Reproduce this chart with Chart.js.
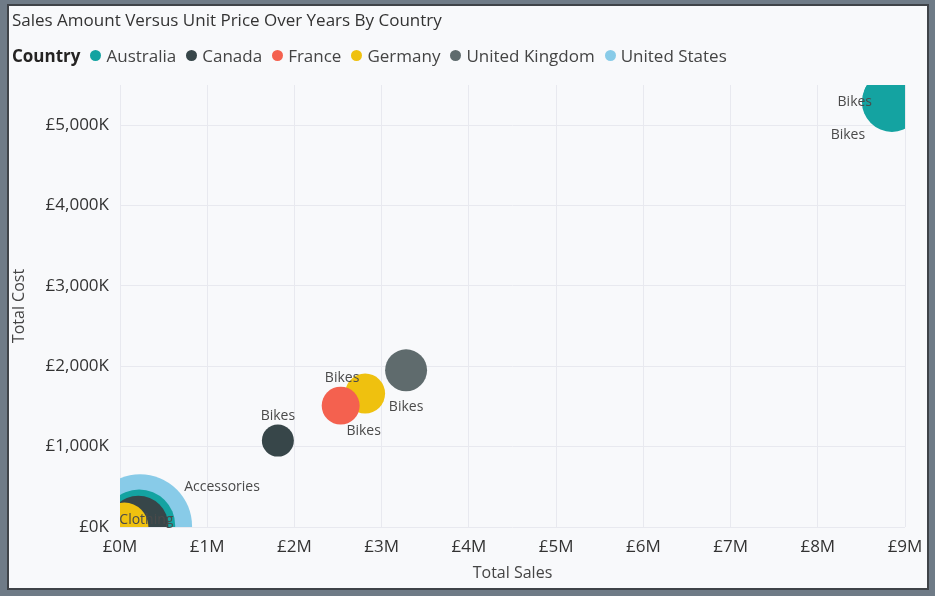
<!DOCTYPE html>
<html>
<head>
<meta charset="utf-8">
<script src="https://cdn.jsdelivr.net/npm/chart.js@4/dist/chart.umd.min.js"></script>
<style>
  html, body { margin: 0; padding: 0; }
  body { width: 935px; height: 596px; background: #6f7b87; position: relative; overflow: hidden; font-family: "Open Sans", "Noto Sans", sans-serif; }
  #card { position: absolute; left: 7px; top: 4px; width: 918px; height: 582px; background: #f8f9fb; border: 2px solid #3f4348; }
  #wrap { position: absolute; left: 0; top: 0; width: 935px; height: 596px; }
  #title { position: absolute; left: 12px; top: 8px; font-size: 17px; color: #333; white-space: nowrap; }
  #legend { position: absolute; left: 12px; top: 44px; font-size: 17px; color: #444; white-space: nowrap; display: flex; align-items: center; }
  #legend b { color: #252423; margin-right: 10px; }
  .item { display: flex; align-items: center; margin-right: 10px; }
  .dot { width: 11px; height: 11px; border-radius: 50%; margin-right: 5px; }
</style>
</head>
<body>
<div id="card"></div>
<div id="wrap"><canvas id="chart"></canvas></div>
<div id="title">Sales Amount Versus Unit Price Over Years By Country</div>
<div id="legend"><b>Country</b></div>
<script>
// ----- DATOS -----
const countries = ['Australia', 'Canada', 'France', 'Germany', 'United Kingdom', 'United States'];
const countryColors = ['#14A3A1', '#374649', '#F4614F', '#EFC10F', '#5F6B6D', '#88CBE8'];

// ventas en £M, coste en £K, tamaño = valor de la burbuja
const australiaProducts = ['Bikes', 'Bikes', 'Accessories'];
const australiaSales = [8.86, 8.85, 0.22];
const australiaCost = [5310, 5290, 20];
const australiaSize = [225, 225, 324];

const canadaProducts = ['Bikes', 'Accessories'];
const canadaSales = [1.81, 0.21];
const canadaCost = [1075, 15];
const canadaSize = [64, 225];

const franceProducts = ['Bikes'];
const franceSales = [2.53];
const franceCost = [1510];
const franceSize = [90];

const germanyProducts = ['Bikes', 'Clothing'];
const germanySales = [2.81, 0.05];
const germanyCost = [1660, 5];
const germanySize = [100, 144];

const ukProducts = ['Bikes'];
const ukSales = [3.28];
const ukCost = [1950];
const ukSize = [110];

const usProducts = ['Accessories'];
const usSales = [0.23];
const usCost = [10];
const usSize = [676];

const xTicks = [0, 1, 2, 3, 4, 5, 6, 7, 8, 9];
const yTicks = [0, 1000, 2000, 3000, 4000, 5000];

const seriesData = [
    [australiaProducts, australiaSales, australiaCost, australiaSize],
    [canadaProducts, canadaSales, canadaCost, canadaSize],
    [franceProducts, franceSales, franceCost, franceSize],
    [germanyProducts, germanySales, germanyCost, germanySize],
    [ukProducts, ukSales, ukCost, ukSize],
    [usProducts, usSales, usCost, usSize]
];

// orden de dibujo: Estados Unidos al fondo, Francia encima
const drawOrder = [5, 4, 1, 2, 3, 6];

// posición de las etiquetas de datos (dx, dy desde el centro) - solo las visibles
const labelOffsets = {
    '0-0': [-38, 2],
    '0-1': [-44, 33],
    '1-0': [0, -25],
    '2-0': [23, 25],
    '3-0': [-23, -16],
    '3-1': [22, -7],
    '4-0': [0, 37],
    '5-0': [82, -39]
};

// ----- LEYENDA HTML -----
const legendEl = document.getElementById('legend');
countries.forEach((name, i) => {
    const item = document.createElement('span');
    item.className = 'item';
    item.innerHTML = `<span class="dot" style="background:${countryColors[i]}"></span>${name}`;
    legendEl.appendChild(item);
});

// ----- GRÁFICO -----
const bubbleRadius = size => Math.sqrt(size) * 2;

const datasets = countries.map((name, i) => {
    const [prod, sales, cost, size] = seriesData[i];
    return {
        label: name,
        data: sales.map((s, j) => ({ x: s, y: cost[j], size: size[j], product: prod[j] })),
        backgroundColor: countryColors[i],
        borderColor: countryColors[i],
        borderWidth: 0,
        radius: ctx => bubbleRadius(ctx.raw.size),
        order: drawOrder[i],
        clip: 0
    };
});

const dataLabels = {
    id: 'dataLabels',
    afterDatasetsDraw(chart) {
        const ctx = chart.ctx;
        ctx.save();
        ctx.font = '14px "Open Sans", sans-serif';
        ctx.fillStyle = '#4a4a4a';
        ctx.textAlign = 'center';
        ctx.textBaseline = 'middle';
        chart.data.datasets.forEach((ds, i) => {
            chart.getDatasetMeta(i).data.forEach((el, j) => {
                const off = labelOffsets[i + '-' + j];
                if (!off) return;
                ctx.fillText(ds.data[j].product, el.x + off[0], el.y + off[1]);
            });
        });
        ctx.restore();
    }
};

const tickFont = { family: '"Open Sans", sans-serif', size: 17 };
const titleFont = { family: '"Open Sans", sans-serif', size: 16 };
const gridColor = '#e8e9ef';

new Chart(document.getElementById('chart'), {
    type: 'bubble',
    data: { datasets: datasets },
    options: {
        responsive: true,
        maintainAspectRatio: false,
        animation: false,
        layout: { autoPadding: false, padding: { top: 85, right: 30, bottom: 10, left: 10 } },
        plugins: {
            legend: { display: false },
            tooltip: { enabled: false }
        },
        scales: {
            x: {
                type: 'linear',
                min: xTicks[0],
                max: xTicks[xTicks.length - 1],
                afterBuildTicks: scale => { scale.ticks = xTicks.map(v => ({ value: v })); },
                afterFit: scale => { scale.height = 59; },
                ticks: {
                    color: '#333',
                    font: tickFont,
                    padding: 10,
                    maxRotation: 0,
                    callback: v => '£' + v + 'M'
                },
                grid: { color: gridColor, drawTicks: false },
                border: { display: false },
                title: {
                    display: true,
                    text: 'Total Sales',
                    color: '#444',
                    font: titleFont,
                    padding: { top: 0, bottom: 3 }
                }
            },
            y: {
                type: 'linear',
                min: 0,
                max: 5500,
                afterBuildTicks: scale => { scale.ticks = yTicks.map(v => ({ value: v })); },
                afterFit: scale => { scale.width = 110; },
                ticks: {
                    color: '#333',
                    font: tickFont,
                    padding: 11,
                    callback: v => '£' + v.toLocaleString('en-GB') + 'K'
                },
                grid: { color: gridColor, drawTicks: false },
                border: { display: false },
                title: {
                    display: true,
                    text: 'Total Cost',
                    color: '#444',
                    font: titleFont,
                    padding: { top: 0, bottom: 0 }
                }
            }
        }
    },
    plugins: [dataLabels]
});
</script>
</body>
</html>
